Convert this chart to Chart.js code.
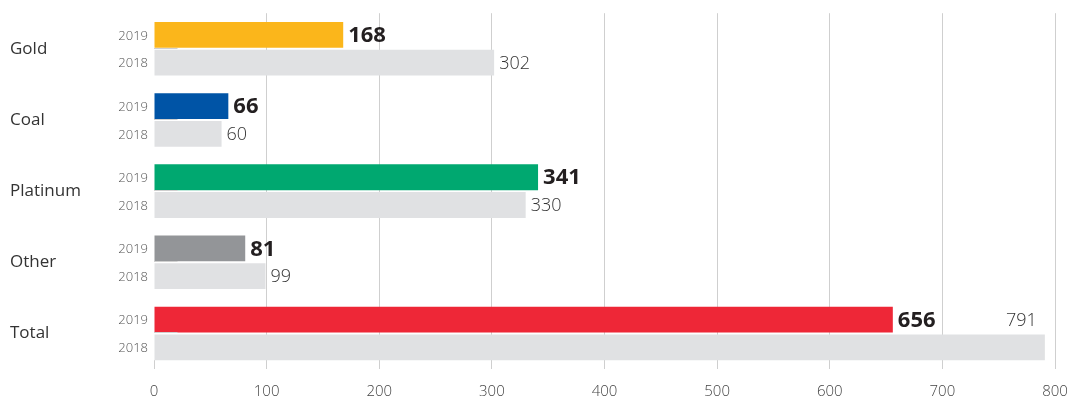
<!DOCTYPE html>
<html>
<head>
<meta charset="utf-8">
<script src="https://cdn.jsdelivr.net/npm/chart.js@4"></script>
<style>
  html, body { margin: 0; padding: 0; background: #fff; }
  #wrap { width: 1075px; height: 400px; }
</style>
</head>
<body>
<div id="wrap"><canvas id="chart"></canvas></div>
<script>
// dados
const categories = ['Gold', 'Coal', 'Platinum', 'Other', 'Total'];
const years = ['2019', '2018'];
const values2019 = [168, 66, 341, 81, 656];
const values2018 = [302, 60, 330, 99, 791];
const colors2019 = ['#fbb61b', '#0054a6', '#00a870', '#939598', '#ee2737'];
const color2018 = '#e0e1e3';
const xMax = 800;
const xStep = 100;

const FONT = "'Open Sans', 'Noto Sans', sans-serif";

// rótulos: anos à esquerda e valores à direita das barras
const labelPlugin = {
    id: 'barLabels',
    afterDatasetsDraw(chart) {
        const ctx = chart.ctx;
        const area = chart.chartArea;
        const xScale = chart.scales.x;
        const x0 = Math.round(xScale.getPixelForValue(0)) + 0.5;
        ctx.save();
        ctx.textBaseline = 'middle';

        // pequeno traço no zero, abaixo da última barra
        const lastMeta = chart.getDatasetMeta(1);
        const lastBar = lastMeta.data[lastMeta.data.length - 1];
        ctx.strokeStyle = '#cfcfcf';
        ctx.lineWidth = 1;
        ctx.beginPath();
        ctx.moveTo(x0, lastBar.y + lastBar.height / 2);
        ctx.lineTo(x0, area.bottom);
        ctx.stroke();

        // traços curtos sob as barras de 2019
        chart.getDatasetMeta(0).data.forEach(function(bar) {
            const yb = Math.round(bar.y + bar.height / 2) + 0.5;
            ctx.beginPath();
            ctx.moveTo(x0 - 0.5, yb);
            ctx.lineTo(x0 + 23, yb);
            ctx.stroke();
        });

        chart.data.datasets.forEach(function(ds, di) {
            const meta = chart.getDatasetMeta(di);
            meta.data.forEach(function(bar, i) {
                // ano
                ctx.font = '300 13px ' + FONT;
                ctx.fillStyle = '#555';
                ctx.textAlign = 'right';
                ctx.fillText(years[di], area.left - 6, bar.y + 1);

                // valor
                const text = String(ds.data[i]);
                if (di === 0) {
                    ctx.font = 'bold 22px ' + FONT;
                    ctx.fillStyle = '#231f20';
                } else {
                    ctx.font = '300 18px ' + FONT;
                    ctx.fillStyle = '#333';
                }
                const w = ctx.measureText(text).width;
                if (bar.x + 5 + w > area.right) {
                    // sem espaço: alinha à direita, na linha de cima
                    const other = chart.getDatasetMeta(0).data[i];
                    ctx.textAlign = 'right';
                    ctx.fillText(text, bar.x - 8, other.y + 1);
                } else {
                    ctx.textAlign = 'left';
                    ctx.fillText(text, bar.x + 5, bar.y + 1);
                }
            });
        });
        ctx.restore();
    }
};

new Chart(document.getElementById('chart'), {
    type: 'bar',
    data: {
        labels: categories,
        datasets: [
            {
                label: years[0],
                data: values2019,
                backgroundColor: colors2019,
                categoryPercentage: 0.78,
                barPercentage: 0.93
            },
            {
                label: years[1],
                data: values2018,
                backgroundColor: color2018,
                categoryPercentage: 0.78,
                barPercentage: 0.93
            }
        ]
    },
    options: {
        indexAxis: 'y',
        responsive: true,
        maintainAspectRatio: false,
        animation: false,
        layout: { padding: { left: 10, right: 20, top: 13, bottom: 0 } },
        plugins: {
            legend: { display: false },
            tooltip: { enabled: false }
        },
        scales: {
            x: {
                min: 0,
                max: xMax,
                border: { display: false },
                grid: {
                    drawTicks: false,
                    lineWidth: 1,
                    color: function(c) {
                        return c.tick && c.tick.value === 0 ? 'rgba(0,0,0,0)' : '#cfcfcf';
                    }
                },
                ticks: {
                    stepSize: xStep,
                    padding: 14,
                    color: '#444',
                    font: { family: FONT, size: 15, weight: 300 }
                },
                afterFit: function(scale) {
                    scale.height = 31;
                    scale.paddingLeft = 0;
                    scale.paddingRight = 0;
                }
            },
            y: {
                border: { display: false },
                grid: { display: false, drawTicks: false },
                ticks: {
                    crossAlign: 'far',
                    color: '#333',
                    font: { family: FONT, size: 17, weight: 400 }
                },
                afterFit: function(scale) { scale.width = 144; }
            }
        }
    },
    plugins: [labelPlugin]
});
</script>
</body>
</html>
